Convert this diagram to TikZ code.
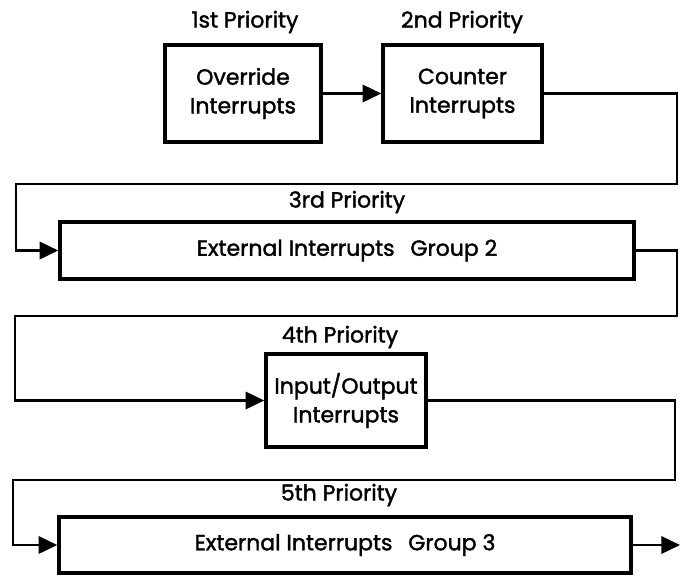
\documentclass[tikz,border=0pt]{standalone}
\usepackage{fontspec}
\setmainfont{Poppins}[FakeBold=1.6,BoldFont={Poppins}]
\usetikzlibrary{arrows.meta}
\begin{document}
\begin{tikzpicture}[x=0.75pt,y=-0.75pt,
  box/.style={draw,line width=2.6pt,inner sep=0pt,align=center,
    font=\bfseries\fontsize{16.5pt}{21.5pt}\selectfont},
  lbl/.style={inner sep=0pt,font=\bfseries\fontsize{16.5pt}{21.5pt}\selectfont},
  conn/.style={line width=1.9pt,line join=miter,
    -{Triangle[length=14pt,width=13pt]}}]
\useasboundingbox (0,0) rectangle (683,576);
% boxes
\node[box,minimum width=117pt,minimum height=72.75pt] (b1) at (243,93.5) {Override\\Interrupts};
\node[box,minimum width=119.25pt,minimum height=72.75pt] (b2) at (462.5,93.5) {Counter\\Interrupts};
\node[box,minimum width=430.5pt,minimum height=42.75pt] (b3) at (347,250.5) {External Interrupts\hspace{0.45em} Group 2};
\node[box,minimum width=120pt,minimum height=69.75pt] (b4) at (346,400.5) {Input/Output\\Interrupts};
\node[box,minimum width=429pt,minimum height=42pt] (b5) at (345,545) {External Interrupts\hspace{0.45em} Group 3};
% labels
\node[lbl] (p1) at (245,22) {1st Priority};
\node[lbl] (p2) at (462,22) {2nd Priority};
\node[lbl] (p3) at (347,202) {3rd Priority};
\node[lbl] (p4) at (340,337) {4th Priority};
\node[lbl] (p5) at (339,495) {5th Priority};
% turning points
\coordinate (c1a) at (677,184);
\coordinate (c1b) at (16,184);
\coordinate (c2a) at (677,316);
\coordinate (c2b) at (15,316);
\coordinate (c3a) at (675,480);
\coordinate (c3b) at (13,480);
\coordinate (out) at (680,545);
% connectors
\draw[conn] (b1.east) -- (b2.west);
\draw[conn] (b2.east) -| (c1a) -- (c1b) |- (b3.west);
\draw[conn] (b3.east) -| (c2a) -- (c2b) |- (b4.west);
\draw[conn] (b4.east) -| (c3a) -- (c3b) |- (b5.west);
\draw[conn] (b5.east) -- (out);
\end{tikzpicture}
\end{document}
